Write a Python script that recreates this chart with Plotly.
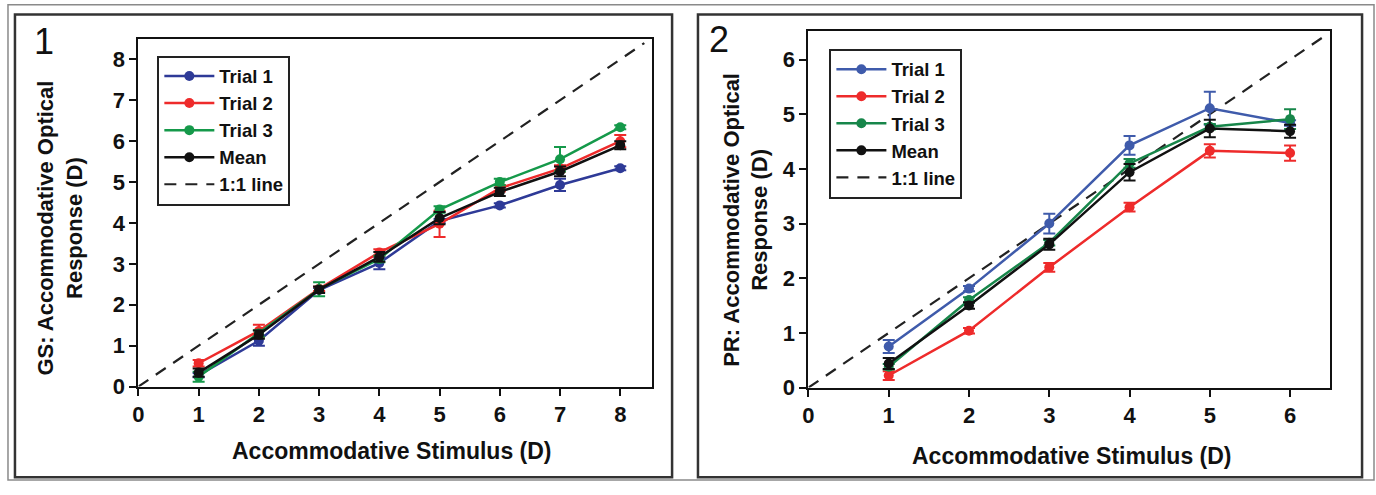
import plotly.graph_objects as go

W, H = 1376, 495

# ---------------- data ----------------
stim1 = [1, 2, 3, 4, 5, 6, 7, 8]
gs_trial1 = [0.28, 1.12, 2.36, 3.02, 4.05, 4.43, 4.93, 5.34]
gs_trial2 = [0.57, 1.36, 2.39, 3.28, 3.98, 4.85, 5.33, 6.00]
gs_trial3 = [0.24, 1.30, 2.38, 3.12, 4.33, 5.00, 5.56, 6.34]
gs_mean = [0.34, 1.27, 2.37, 3.17, 4.12, 4.76, 5.26, 5.90]
gs_err1 = [0.05, 0.12, 0.05, 0.15, 0.05, 0.05, 0.15, 0.05]
gs_err2 = [0.08, 0.15, 0.05, 0.08, 0.32, 0.08, 0.08, 0.15]
gs_err3 = [0.12, 0.08, 0.17, 0.08, 0.08, 0.08, 0.30, 0.05]
gs_errm = [0.10, 0.10, 0.08, 0.12, 0.15, 0.10, 0.12, 0.10]

stim2 = [1, 2, 3, 4, 5, 6]
pr_trial1 = [0.75, 1.81, 3.00, 4.43, 5.11, 4.84]
pr_trial2 = [0.22, 1.04, 2.20, 3.30, 4.33, 4.29]
pr_trial3 = [0.38, 1.60, 2.65, 4.10, 4.77, 4.91]
pr_mean = [0.44, 1.50, 2.62, 3.94, 4.74, 4.69]
pr_err1 = [0.12, 0.05, 0.18, 0.17, 0.30, 0.05]
pr_err2 = [0.08, 0.05, 0.08, 0.08, 0.12, 0.14]
pr_err3 = [0.05, 0.05, 0.05, 0.08, 0.05, 0.18]
pr_errm = [0.10, 0.06, 0.10, 0.15, 0.16, 0.12]

one_to_one_1 = [0, 8.4]
one_to_one_2 = [0, 6.42]

names = ["Trial 1", "Trial 2", "Trial 3", "Mean"]
colors1 = ["#2e3a97", "#ee2b2b", "#15994a", "#111111"]
colors2 = ["#3f5bab", "#ee2b2b", "#17864a", "#111111"]

# ---------------- helpers ----------------
def X(px):
    return px / W

def Y(py):
    return 1 - py / H

fig = go.Figure()

def add_panel(stim, series, errs, colors, xa, ya, leg, line11):
    fig.add_trace(go.Scatter(
        x=line11, y=line11, mode="lines", name="1:1 line",
        line=dict(color="#222222", width=2.2, dash="12px,9px"),
        xaxis=xa, yaxis=ya, legend=leg, legendrank=5))
    for name, ys, er, col, rk in zip(names, series, errs, colors, [1, 2, 3, 4]):
        fig.add_trace(go.Scatter(
            x=stim, y=ys, mode="lines+markers", name=name,
            line=dict(color=col, width=2.5),
            marker=dict(color=col, size=10, symbol="circle"),
            error_y=dict(type="data", array=er, color=col, thickness=2, width=6),
            xaxis=xa, yaxis=ya, legend=leg, legendrank=rk))

add_panel(stim1, [gs_trial1, gs_trial2, gs_trial3, gs_mean],
          [gs_err1, gs_err2, gs_err3, gs_errm], colors1, "x", "y", "legend", one_to_one_1)
add_panel(stim2, [pr_trial1, pr_trial2, pr_trial3, pr_mean],
          [pr_err1, pr_err2, pr_err3, pr_errm], colors2, "x2", "y2", "legend2", one_to_one_2)

tick_font = dict(family="Liberation Sans, Arial", size=22, color="#111111", weight="bold")
axis_common = dict(showline=True, mirror=True, linewidth=2, linecolor="#111111",
                   ticks="outside", ticklen=7, tickwidth=2, tickcolor="#111111",
                   showgrid=False, zeroline=False, tickfont=tick_font, dtick=1)

legend_common = dict(bgcolor="white", bordercolor="#222222", borderwidth=2,
                     font=dict(family="Liberation Sans, Arial", size=18.5, color="#111111", weight="bold"),
                     xanchor="left", yanchor="top", tracegroupgap=0, itemwidth=50)

fig.update_layout(
    width=W, height=H,
    margin=dict(l=0, r=0, t=0, b=0),
    paper_bgcolor="white", plot_bgcolor="white",
    showlegend=True,
    xaxis=dict(domain=[X(133), X(649)], range=[0, 8.53], anchor="y", tick0=0, **axis_common),
    yaxis=dict(domain=[Y(397), Y(40)], range=[0, 8.5], anchor="x", tick0=0, **axis_common),
    xaxis2=dict(domain=[X(806), X(1330)], range=[0, 6.5], anchor="y2", tick0=0, **axis_common),
    yaxis2=dict(domain=[Y(398), Y(32)], range=[0, 6.52], anchor="x2", tick0=0, **axis_common),
    legend=dict(x=X(152), y=Y(57), **legend_common),
    legend2=dict(x=X(827), y=Y(50), **legend_common),
)

# panel frames
fig.add_shape(type="rect", xref="paper", yref="paper", x0=X(2), x1=X(1374), y0=Y(493), y1=Y(5),
              line=dict(color="#8a8a8a", width=1.5), layer="below")
fig.add_shape(type="rect", xref="paper", yref="paper", x0=X(9), x1=X(669), y0=Y(490), y1=Y(15),
              line=dict(color="#333333", width=2.5), layer="below")
fig.add_shape(type="rect", xref="paper", yref="paper", x0=X(695), x1=X(1362), y0=Y(490), y1=Y(15),
              line=dict(color="#333333", width=2.5), layer="below")

title_font = dict(family="Liberation Sans, Arial", size=23, color="#111111", weight="bold")
ytitle_font = dict(family="Liberation Sans, Arial", size=22, color="#111111", weight="bold")
num_font = dict(family="Liberation Sans, Arial", size=36, color="#111111")

ann = [
    dict(text="1", x=X(38), y=Y(43), font=num_font),
    dict(text="2", x=X(716), y=Y(41), font=num_font),
    dict(text="Accommodative Stimulus (D)", x=X(388), y=Y(463), font=title_font),
    dict(text="Accommodative Stimulus (D)", x=X(1071), y=Y(468), font=title_font),
    dict(text="GS: Accommodative Optical<br>Response (D)", x=X(54), y=Y(234), textangle=-90,
         font=ytitle_font),
    dict(text="PR: Accommodative Optical<br>Response (D)", x=X(743), y=Y(226), textangle=-90,
         font=ytitle_font),
]
for a in ann:
    fig.add_annotation(xref="paper", yref="paper", showarrow=False, xanchor="center",
                       yanchor="middle", **a)

post = ("document.documentElement.style.overflow='hidden';"
        "document.body.style.margin='0';document.body.style.overflow='hidden';"
        "var d=document.getElementById('{plot_id}');"
        "d.style.position='fixed';d.style.top='0px';d.style.left='0px';")

fig.write_html("out.html", config={"displayModeBar": False}, post_script=post)
